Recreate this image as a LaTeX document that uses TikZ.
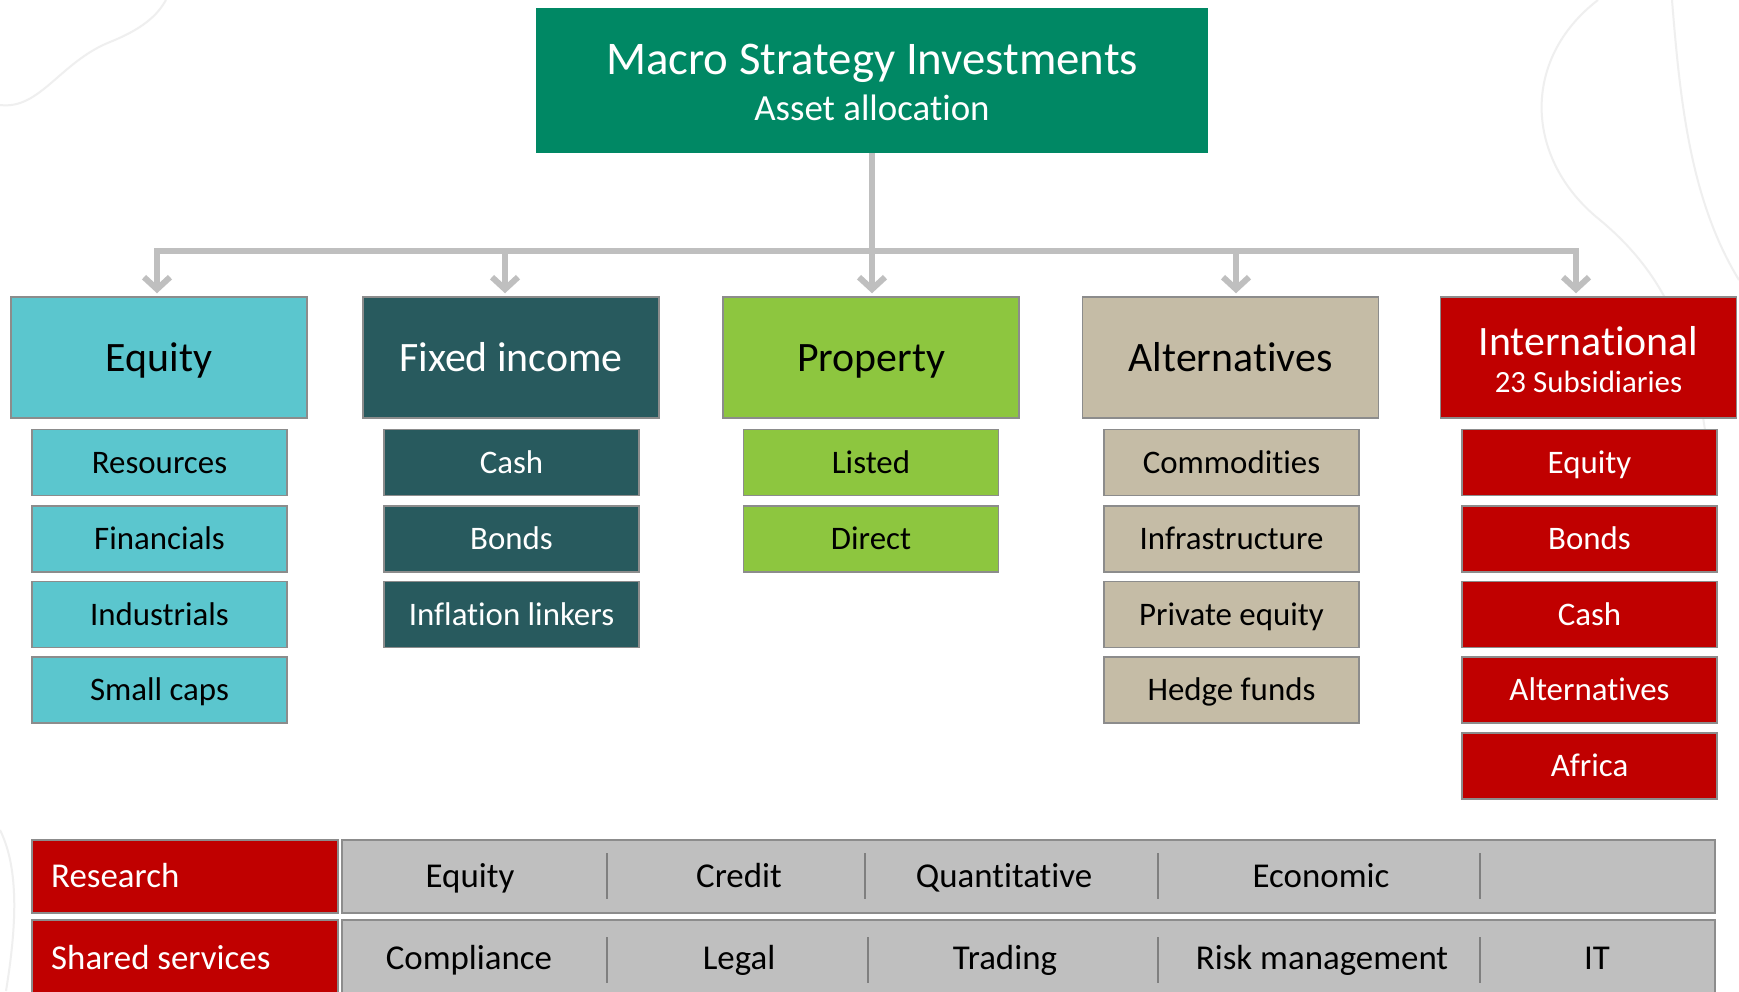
\documentclass[tikz,border=0pt]{standalone}
\usepackage{fontspec}
\setmainfont{Carlito}[Ligatures=NoCommon]
\usetikzlibrary{arrows.meta}
\definecolor{topgreen}{HTML}{008864}
\definecolor{eqcyan}{HTML}{5BC6CE}
\definecolor{fidark}{HTML}{285A5E}
\definecolor{propgreen}{HTML}{8DC63F}
\definecolor{altbeige}{HTML}{C5BCA6}
\definecolor{intred}{HTML}{C00000}
\definecolor{bargrey}{HTML}{BFBFBF}
\definecolor{edgegrey}{HTML}{8C8C8C}
\definecolor{linkgrey}{HTML}{BFBFBF}
\definecolor{divgrey}{HTML}{7F7F7F}
\definecolor{faintgrey}{HTML}{EFEFEF}
\newcommand{\fs}[1]{\fontsize{#1}{#1}\selectfont}
\begin{document}
\begin{tikzpicture}[x=1bp,y=-1bp,
  % text sized by cap height so that capitals sit centred in each box
  txt/.style 2 args={font=\fs{#1}, text height=#2bp, text depth=0pt},
  box/.style={rectangle, inner sep=0pt, draw=edgegrey, line width=1.5bp},
  titlebox/.style={rectangle, inner sep=0pt, fill=topgreen,
    minimum width=672bp, minimum height=145bp},
  head/.style={box, minimum width=296bp, minimum height=121bp, txt={42}{27}},
  item/.style={box, minimum width=255bp, minimum height=66bp, txt={33}{21.3}},
  eqc/.style={fill=eqcyan, text=black},
  fic/.style={fill=fidark, text=white},
  prc/.style={fill=propgreen, text=black},
  alc/.style={fill=altbeige, text=black},
  inc/.style={fill=intred, text=white},
  rowlabel/.style={box, fill=intred, minimum width=306bp, minimum height=73bp},
  rowbar/.style={box, fill=bargrey, minimum width=1373bp, minimum height=73bp},
  rowtext/.style={txt={35}{22.5}, text=white, anchor=west, inner sep=0pt},
  celltext/.style={txt={35}{22.5}, text=black, inner sep=0pt},
  divider/.style={draw=divgrey, line width=2bp},
  link/.style={draw=linkgrey, line width=6bp},
  linktip/.style={-{Straight Barb[length=12bp,width=26bp]}, shorten >=3bp},
  faint/.style={draw=faintgrey, line width=2bp}
]
\clip (0,0) rectangle (1739,991);
\useasboundingbox (0,0) rectangle (1739,991);
\fill[white] (0,0) rectangle (1739,991);

% faint background strokes
\draw[faint] (0,105) .. controls (40,110) and (60,62) .. (110,42) .. controls (150,26) and (160,10) .. (166,0);
\draw[faint] (1598,0) .. controls (1520,60) and (1525,160) .. (1600,220) .. controls (1660,270) and (1690,330) .. (1705,430);
\draw[faint] (1672,0) .. controls (1680,100) and (1690,200) .. (1739,280);
\draw[faint] (0,830) .. controls (20,870) and (16,930) .. (6,991);

% title
\node[titlebox] (top) at (872,80.5) {};
\node[txt={47}{30.3}, text=white, inner sep=0pt] (title) at (872,59) {Macro Strategy Investments};
\node[txt={37}{23.8}, text=white, inner sep=0pt] (subtitle) at (872,109) {Asset allocation};

% asset class headers
\node[head, eqc] (eq) at (159,357.5) {Equity};
\node[head, fic] (fi) at (511,357.5) {Fixed income};
\node[head, prc] (pr) at (871,357.5) {Property};
\node[head, alc] (al) at (1230.5,357.5) {Alternatives};
\node[head, inc] (in) at (1588.5,357.5) {};
\node[txt={42}{27}, text=white, inner sep=0pt] (intitle) at (1588.5,342) {International};
\node[txt={31}{20}, text=white, inner sep=0pt] (insub) at (1588.5,382) {23 Subsidiaries};

% connectors
\coordinate (aEq) at (157,251);
\coordinate (aFi) at (505,251);
\coordinate (aPr) at (872,251);
\coordinate (aAl) at (1236,251);
\coordinate (aIn) at (1576,251);
\draw[link] (top.south) -- (aPr);
\draw[link, linktip] (aEq) -- (aEq |- eq.north);
\draw[link, linktip] (aFi) -- (aFi |- fi.north);
\draw[link, linktip] (aPr) -- (aPr |- pr.north);
\draw[link, linktip] (aAl) -- (aAl |- al.north);
\draw[link, linktip] (aIn) -- (aIn |- in.north);
\draw[link, line cap=rect] (aEq) -- (aIn);

% equity
\node[item, eqc] (eq1) at (159.5,462.5) {Resources};
\node[item, eqc] (eq2) at (159.5,539) {Financials};
\node[item, eqc] (eq3) at (159.5,614.5) {Industrials};
\node[item, eqc] (eq4) at (159.5,690) {Small caps};
% fixed income
\node[item, fic] (fi1) at (511.5,462.5) {Cash};
\node[item, fic] (fi2) at (511.5,539) {Bonds};
\node[item, fic] (fi3) at (511.5,614.5) {Inflation linkers};
% property
\node[item, prc] (pr1) at (871,462.5) {Listed};
\node[item, prc] (pr2) at (871,539) {Direct};
% alternatives
\node[item, alc] (al1) at (1231.5,462.5) {Commodities};
\node[item, alc] (al2) at (1231.5,539) {Infrastructure};
\node[item, alc] (al3) at (1231.5,614.5) {Private equity};
\node[item, alc] (al4) at (1231.5,690) {Hedge funds};
% international
\node[item, inc] (in1) at (1589.5,462.5) {Equity};
\node[item, inc] (in2) at (1589.5,539) {Bonds};
\node[item, inc] (in3) at (1589.5,614.5) {Cash};
\node[item, inc] (in4) at (1589.5,690) {Alternatives};
\node[item, inc] (in5) at (1589.5,766) {Africa};

% research row
\node[rowlabel] (resbox) at (185,876.5) {};
\node[rowtext] (reslabel) at (51,876.5) {Research};
\node[rowbar] (resbar) at (1028.5,876.5) {};
\node[celltext] (r1) at (470,876.5) {Equity};
\node[celltext] (r2) at (739,876.5) {Credit};
\node[celltext] (r3) at (1004,876.5) {Quantitative};
\node[celltext] (r4) at (1321,876.5) {Economic};
\draw[divider] (607,853) -- (607,899);
\draw[divider] (865,853) -- (865,899);
\draw[divider] (1158,853) -- (1158,899);
\draw[divider] (1480,853) -- (1480,899);

% shared services row
\node[rowlabel] (ssbox) at (185,956.5) {};
\node[rowtext] (sslabel) at (51,958.5) {Shared services};
\node[rowbar] (ssbar) at (1028.5,956.5) {};
\node[celltext] (s1) at (469,958.5) {Compliance};
\node[celltext] (s2) at (739,958.5) {Legal};
\node[celltext] (s3) at (1005,958.5) {Trading};
\node[celltext] (s4) at (1322,958.5) {Risk management};
\node[celltext] (s5) at (1597,958.5) {IT};
\draw[divider] (607,937) -- (607,983);
\draw[divider] (868,937) -- (868,983);
\draw[divider] (1158,937) -- (1158,983);
\draw[divider] (1480,937) -- (1480,983);
\end{tikzpicture}
\end{document}
